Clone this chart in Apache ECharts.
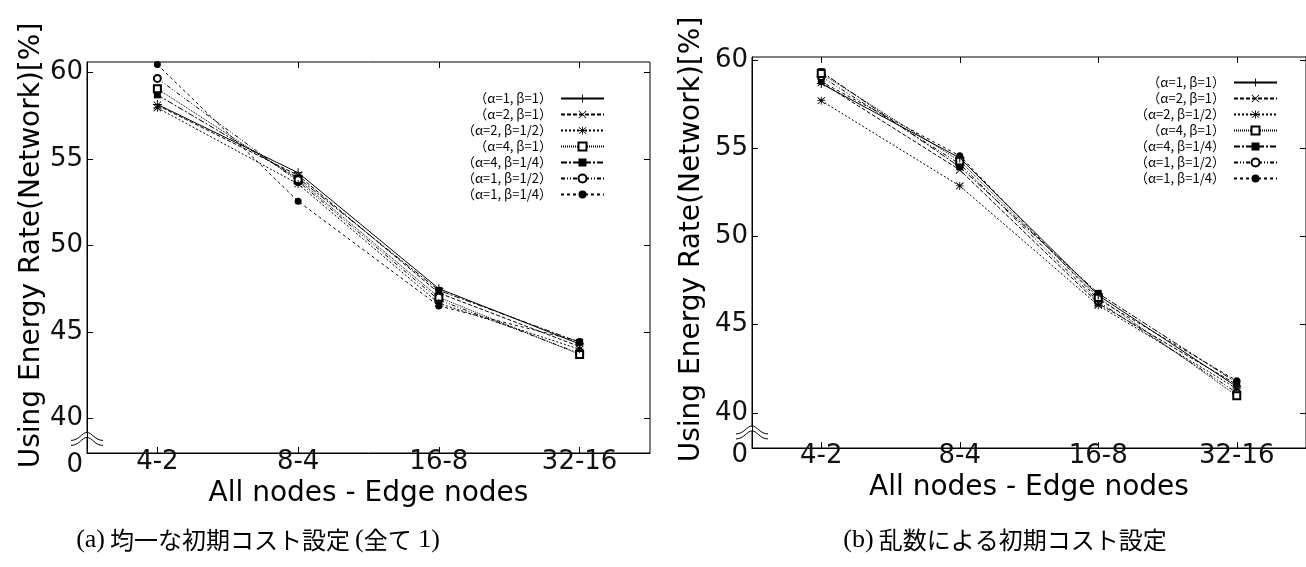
<!DOCTYPE html>
<html><head><meta charset="utf-8">
<script src="https://cdn.jsdelivr.net/npm/echarts@6/dist/echarts.min.js"></script>
<style>html,body{margin:0;padding:0;background:#fff}#c{width:1306px;height:567px}</style>
</head><body><div id="c"></div>
<script>
const categories = ['4-2', '8-4', '16-8', '32-16'];
const seriesNames = ['（α=1, β=1）', '（α=2, β=1）', '（α=2, β=1/2）', '（α=4, β=1）', '（α=4, β=1/4）', '（α=1, β=1/2）', '（α=1, β=1/4）'];
// (a) uniform initial cost
const uniformA1B1   = [58.15, 54.20, 47.50, 44.30];
const uniformA2B1   = [58.10, 54.05, 47.25, 44.15];
const uniformA2B12  = [57.95, 53.55, 46.65, 44.00];
const uniformA4B1   = [59.05, 53.80, 47.00, 43.70];
const uniformA4B14  = [58.70, 53.90, 47.40, 44.40];
const uniformA1B12  = [59.65, 53.70, 46.85, 43.75];
const uniformA1B14  = [60.45, 52.55, 46.50, 44.45];
// (b) random initial cost
const randomA1B1    = [58.69, 54.47, 46.67, 41.48];
const randomA2B1    = [58.75, 53.79, 46.21, 41.60];
const randomA2B12   = [57.72, 52.88, 46.10, 41.37];
const randomA4B1    = [59.26, 54.30, 46.55, 40.97];
const randomA4B14   = [59.37, 53.96, 46.78, 41.71];
const randomA1B12   = [59.09, 54.13, 46.32, 41.14];
const randomA1B14   = [58.80, 54.59, 46.44, 41.82];
const yTickValues = [40, 45, 50, 55, 60];
const yBreakValue = 38;       // bottom of the broken axis, labelled "0"
const yBreakLabel = '0';
const xTitle = 'All nodes - Edge nodes';
const yTitle = 'Using Energy Rate(Network)[%]';

const uniformSeries = [uniformA1B1, uniformA2B1, uniformA2B12, uniformA4B1, uniformA4B14, uniformA1B12, uniformA1B14];
const randomSeries = [randomA1B1, randomA2B1, randomA2B12, randomA4B1, randomA4B14, randomA1B12, randomA1B14];

const plusPath = 'path://M4.45,0H5.55V10H4.45ZM0,4.45H10V5.55H0Z';
const crossPath = 'path://M0.75,0L5,4.25L9.25,0L10,0.75L5.75,5L10,9.25L9.25,10L5,5.75L0.75,10L0,9.25L4.25,5L0,0.75Z';
const starPath = 'path://M4.45,0H5.55V10H4.45ZM0,4.45H10V5.55H0ZM0.75,0.5L5,4.25L9.25,0.5L10,1.25L5.75,5L10,8.75L9.25,9.5L5,5.75L0.75,9.5L0,8.75L4.25,5L0,1.25Z';
const symbols = [plusPath, crossPath, starPath, 'emptyRect', 'rect', 'emptyCircle', 'circle'];
const symbolSizes = [9, 8, 8, 7, 7, 7, 7];
const lineTypes = ['solid', [4, 2], [2, 2], [1, 1], [6, 2, 2, 2], [4, 2, 1, 2, 1, 2], [3, 3]];

const grids = [
  {left: 87, top: 62, width: 563, height: 391},
  {left: 752, top: 57, width: 561, height: 391}
];
const yMax = [60.6, 60.2];

const F = 'DejaVu Sans';
const chart = echarts.init(document.getElementById('c'), null, {renderer: 'canvas'});

function xAxes(g, labelMargin, nameGap) {
  return [{
    type: 'category', gridIndex: g, data: categories, boundaryGap: true, position: 'bottom',
    axisLine: {show: true, lineStyle: {color: '#000', width: 1}},
    axisTick: {show: true, inside: true, alignWithLabel: true, length: 6, lineStyle: {color: '#000'}},
    axisLabel: {show: true, margin: labelMargin, color: '#111', fontFamily: F, fontSize: 26},
    name: xTitle, nameLocation: 'middle', nameGap: nameGap,
    nameTextStyle: {color: '#000', fontFamily: F, fontSize: 28},
    splitLine: {show: false}
  }, {
    type: 'category', gridIndex: g, data: categories, boundaryGap: true, position: 'top',
    axisLine: {show: false},
    axisTick: {show: true, inside: true, alignWithLabel: true, length: 6, lineStyle: {color: '#000'}},
    axisLabel: {show: false}, splitLine: {show: false}
  }];
}
function yAxes(g, zeroPad, nameGap, namePad) {
  return [{
    type: 'value', gridIndex: g, min: yBreakValue, max: yMax[g], position: 'left',
    axisLine: {show: true, lineStyle: {color: '#000', width: 1}},
    axisTick: {show: true, inside: true, length: 6, customValues: yTickValues, lineStyle: {color: '#000'}},
    axisLabel: {show: true, customValues: [yBreakValue].concat(yTickValues), margin: 4,
      color: '#111', fontFamily: F, fontSize: 26,
      formatter: v => (v === yBreakValue ? '{z|' + yBreakLabel + '}' : String(v)),
      rich: {z: {fontFamily: F, fontSize: 26, color: '#111', padding: [zeroPad, 0, 0, 0]}}},
    name: yTitle, nameLocation: 'middle', nameGap: nameGap, nameRotate: 90,
    nameTextStyle: {color: '#000', fontFamily: F, fontSize: 28, padding: [0, 0, 0, namePad]},
    splitLine: {show: false}
  }, {
    type: 'value', gridIndex: g, min: yBreakValue, max: yMax[g], position: 'right',
    axisLine: {show: false},
    axisTick: {show: true, inside: true, length: 6, customValues: yTickValues, lineStyle: {color: '#000'}},
    axisLabel: {show: false}, splitLine: {show: false}
  }];
}

const series = [];
[uniformSeries, randomSeries].forEach((set, g) => {
  set.forEach((vals, i) => {
    series.push({
      type: 'line', name: seriesNames[i], xAxisIndex: g * 2, yAxisIndex: g * 2,
      data: vals, symbol: symbols[i], symbolSize: symbolSizes[i], showAllSymbol: true,
      lineStyle: {color: '#000', width: 1, type: lineTypes[i]},
      itemStyle: {color: '#000', borderColor: '#000', borderWidth: (i === 3 || i === 5) ? 1 : 0},
      emphasis: {disabled: true}, z: 10 - i
    });
  });
});

function legend(right, top) {
  return {
    data: seriesNames, orient: 'vertical', right: right, top: top, align: 'right',
    itemWidth: 43, itemHeight: 10, itemGap: 3, selectedMode: false,
    textStyle: {color: '#000', fontFamily: 'Noto Sans CJK JP', fontSize: 13, padding: [0, 4, 0, 0]}
  };
}

const capRich = {
  s: {fontFamily: 'Liberation Serif', fontSize: 26, fontWeight: 'normal', color: '#000'},
  j: {fontFamily: 'Noto Sans CJK JP', fontSize: 24, fontWeight: 'normal', color: '#000'}
};

const option = {
  animation: false,
  backgroundColor: '#fff',
  grid: grids.map(g => Object.assign({show: true, borderColor: '#000', borderWidth: 1, backgroundColor: 'transparent'}, g)),
  xAxis: xAxes(0, -4, 25).concat(xAxes(1, -5, 21)),
  yAxis: yAxes(0, 24, 40, 24).concat(yAxes(1, 14, 46, 26)),
  legend: [legend(696, 87), legend(23, 71)],
  title: [{
    text: '{s|(a)} {j|均一な初期コスト設定} {s|(}{j|全て}{s| 1)}',
    left: 253, top: 522, textAlign: 'center',
    textStyle: {fontWeight: 'normal', rich: capRich}
  }, {
    text: '{s|(b)} {j|乱数による初期コスト設定}',
    left: 1000, top: 522, textAlign: 'center',
    textStyle: {fontWeight: 'normal', rich: capRich}
  }],
  series: series
};
chart.setOption(option);

// axis-break marks on the left axes
function arc(dy) {
  return [
    {type: 'bezierCurve', shape: {x1: -16, y1: 3 + dy, cpx1: -8, cpy1: 3 + dy, cpx2: -5, cpy2: -5 + dy, x2: 0, y2: -5 + dy},
      style: {fill: 'none', stroke: '#000', lineWidth: 1}},
    {type: 'bezierCurve', shape: {x1: 0, y1: -5 + dy, cpx1: 5, cpy1: -5 + dy, cpx2: 8, cpy2: 3 + dy, x2: 16, y2: 3 + dy},
      style: {fill: 'none', stroke: '#000', lineWidth: 1}}
  ];
}
const breakVals = [38.9, 38.97];
const elements = [];
grids.forEach((g, k) => {
  const y = chart.convertToPixel({yAxisIndex: k * 2}, breakVals[k]);
  elements.push({
    type: 'group', x: g.left, y: y, z: 100,
    children: [{type: 'rect', shape: {x: -2, y: -4, width: 4, height: 4}, style: {fill: '#fff'}}]
      .concat(arc(0)).concat(arc(5))
  });
});
chart.setOption({graphic: elements});
</script>
</body></html>
